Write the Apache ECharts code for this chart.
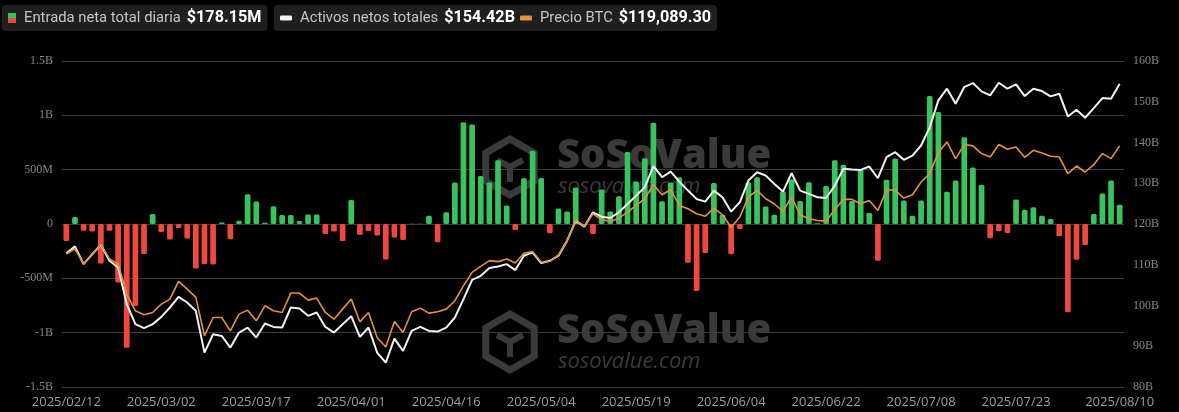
<!DOCTYPE html>
<html><head><meta charset="utf-8">
<script src="https://cdn.jsdelivr.net/npm/echarts@6/dist/echarts.min.js"></script>
<style>html,body{margin:0;padding:0;background:#000;}#c{width:1179px;height:412px;}</style>
</head><body><div id="c"></div>
<script>
const dates = [
'2025/02/12','2025/02/13','2025/02/17','2025/02/18','2025/02/19','2025/02/20','2025/02/23','2025/02/24','2025/02/25','2025/02/26','2025/02/27',
'2025/03/02','2025/03/03','2025/03/04','2025/03/05','2025/03/06','2025/03/09','2025/03/10','2025/03/11','2025/03/12','2025/03/13','2025/03/16','2025/03/17','2025/03/18','2025/03/19','2025/03/20','2025/03/23','2025/03/24','2025/03/25','2025/03/26','2025/03/27','2025/03/30',
'2025/03/31','2025/04/01','2025/04/02','2025/04/03','2025/04/06','2025/04/07','2025/04/08','2025/04/09','2025/04/10','2025/04/13','2025/04/14','2025/04/15','2025/04/16','2025/04/20','2025/04/21','2025/04/22','2025/04/23','2025/04/24','2025/04/27','2025/04/28','2025/04/29',
'2025/04/30','2025/05/01','2025/05/04','2025/05/05','2025/05/06','2025/05/07','2025/05/08','2025/05/11','2025/05/12','2025/05/13','2025/05/14','2025/05/15','2025/05/18','2025/05/19','2025/05/20','2025/05/21','2025/05/22','2025/05/26','2025/05/27','2025/05/28','2025/05/29',
'2025/06/01','2025/06/02','2025/06/03','2025/06/04','2025/06/05','2025/06/08','2025/06/09','2025/06/10','2025/06/11','2025/06/12','2025/06/15','2025/06/16','2025/06/17','2025/06/19','2025/06/22','2025/06/23','2025/06/24','2025/06/25','2025/06/26','2025/06/29',
'2025/06/30','2025/07/01','2025/07/02','2025/07/06','2025/07/07','2025/07/08','2025/07/09','2025/07/10','2025/07/13','2025/07/14','2025/07/15','2025/07/16','2025/07/17','2025/07/20','2025/07/21','2025/07/22','2025/07/23','2025/07/24','2025/07/27','2025/07/28','2025/07/29','2025/07/30',
'2025/07/31','2025/08/03','2025/08/04','2025/08/05','2025/08/06','2025/08/07','2025/08/10'
];

// Daily total net inflow (USD millions)
const netInflowM = [
-156, 65, -62, -68, -363, -62, -538, -1138, -754, -277,
92, -74, -143, -37, -134, -409, -370, -372, 13, -140,
30, 274, 207, 12, 163, 82, 82, 27, 88, 88,
-93, -69, -157, 220, -100, -64, -106, -326, -125, -148,
1.5, 1.5, 75, -169, 107, 381, 936, 916, 441, 381,
587, 171, -55, 421, 675, 424, -85, 142, 114, 336,
0, -92, 317, 114, 255, 662, 390, 606, 932, 209,
382, 430, -356, -616, -266, 378, 86, -278, -46, 385,
431, 162, 86, 302, 409, 212, 385, 8, 349, 586,
546, 212, 500, 102, -339, 407, 602, 216, 77, 216,
1177, 1030, 297, 401, 798, 521, 362, -130, -67, -83,
225, 130, 154, 77, 46, -113, -811, -330, -194, 91,
281, 401, 178.15
];

// Total net assets (USD billions)
const totalNetAssetsB = [
112.79, 114.51, 110.16, 112.62, 114.92, 110.98, 109.34, 100.33, 95.41, 94.43,
95.41, 97.21, 99.51, 102.13, 100.74, 98.69, 88.44, 92.95, 92.54, 89.67,
93.36, 94.59, 92.13, 95.57, 94.75, 94.59, 99.51, 99.26, 97.46, 98.28,
94.75, 93.36, 95.41, 97.38, 92.29, 94.59, 88.44, 85.98, 91.88, 88.85,
93.77, 94.75, 93.77, 93.61, 94.59, 97.05, 101.56, 106.31, 107.29, 109.18,
109.59, 110.16, 108.69, 112.21, 113.03, 110.41, 110.98, 112.21, 115.90, 120.82,
119.34, 122.87, 121.80, 121.48, 122.87, 124.92, 126.97, 129.02, 134.18, 131.48,
132.87, 130.41, 128.20, 126.15, 125.49, 128.20, 126.56, 123.03, 125.33, 130.66,
132.71, 131.89, 129.84, 127.95, 132.46, 128.20, 127.38, 126.56, 126.39, 129.43,
133.53, 133.36, 133.28, 134.10, 131.23, 136.39, 137.62, 135.74, 136.80, 139.26,
143.77, 150.33, 153.20, 149.51, 153.61, 154.59, 152.54, 151.56, 154.67, 153.20,
154.26, 151.39, 153.20, 152.62, 151.31, 151.97, 146.39, 148.03, 146.07, 148.44,
150.90, 150.74, 154.42
];

// BTC price (USD)
const btcPrice = [
96105, 97173, 93971, 95963, 98098, 95038, 93971, 87567, 84010, 83156,
83654, 85433, 86500, 90271, 88635, 86856, 78674, 82587, 82587, 79741,
83298, 84152, 81875, 85077, 84010, 83654, 87781, 87781, 86287, 86714,
83654, 82231, 84366, 86500, 81662, 83654, 78318, 76326, 81733, 79385,
83797, 84579, 83512, 83797, 84366, 86144, 89346, 92192, 93473, 94682,
94469, 95038, 94184, 96248, 96604, 94327, 94540, 95892, 98809, 103221,
102011, 104644, 103434, 103007, 103719, 104999, 106422, 107845, 110834, 108699,
109766, 106422, 105711, 104644, 104145, 105853, 104430, 101797, 103932, 108201,
109624, 107845, 106778, 105142, 108201, 104430, 103576, 103221, 103078, 105568,
107703, 107703, 106778, 107490, 105355, 109766, 109624, 107988, 108699, 111403,
113182, 117664, 119941, 116383, 119372, 119087, 117451, 116739, 119372, 118375,
118874, 116668, 118162, 117593, 116881, 116739, 113182, 114818, 113537, 115103,
117451, 116383, 119089.30
];

const leftTicks = [-1500, -1000, -500, 0, 500, 1000, 1500];
const leftTickLabels = ['-1.5B', '-1B', '-500M', '0', '500M', '1B', '1.5B'];
const rightTickLabelSuffix = 'B';

const seriesNames = ['Entrada neta total diaria', 'Activos netos totales', 'Precio BTC'];

const GREEN = '#37c45e', RED = '#f0473f', WHITE = '#f2f2f2', ORANGE = '#e3923a';
const last = dates.length - 1;

const fmtInflow = '$' + netInflowM[last].toFixed(2) + 'M';
const fmtAssets = '$' + totalNetAssetsB[last].toFixed(2) + 'B';
const fmtPrice = '$' + btcPrice[last].toLocaleString('en-US', {minimumFractionDigits: 2, maximumFractionDigits: 2});

const splitSvg = "<svg xmlns='http://www.w3.org/2000/svg' width='8' height='10'><rect width='8' height='5' fill='" + GREEN + "'/><rect y='5' width='8' height='5' fill='" + RED + "'/></svg>";
const splitIcon = 'image://data:image/svg+xml;charset=utf-8,' + encodeURIComponent(splitSvg);

const legRich = {
  a: {color: '#c6c6c6', fontSize: 14.8, fontFamily: 'Roboto', padding: [0, 6, 0, 3]},
  b: {color: '#ffffff', fontSize: 16.2, fontWeight: 'bold', fontFamily: 'Roboto'}
};
function mkLegend(name, left, icon, w, h, val) {
  return {
    data: [name], left: left, top: 5, orient: 'horizontal',
    backgroundColor: '#1f1f1f', borderRadius: 4, padding: [5, 6, 5, 6],
    icon: icon, itemWidth: w, itemHeight: h, selectedMode: false,
    formatter: function (n) { return '{a|' + n + '}{b|' + val + '}'; },
    textStyle: {rich: legRich}
  };
}

function hexPts(cx, cy, r) {
  const p = [];
  for (let k = 0; k < 6; k++) {
    const a = (-90 + 60 * k) * Math.PI / 180;
    p.push([cx + r * Math.cos(a), cy + r * Math.sin(a)]);
  }
  return p;
}
function watermark(cy) {
  const c = '#3a3a3a';
  const cx = 510;
  return [
    {type: 'polygon', z: 0, silent: true, shape: {points: hexPts(cx, cy, 28)}, style: {fill: 'none', stroke: c, lineWidth: 7}},
    {type: 'polyline', z: 0, silent: true, shape: {points: [[cx - 13, cy - 7], [cx, cy], [cx + 13, cy - 7]]}, style: {fill: 'none', stroke: c, lineWidth: 6}},
    {type: 'polyline', z: 0, silent: true, shape: {points: [[cx, cy], [cx, cy + 15]]}, style: {fill: 'none', stroke: c, lineWidth: 6}},
    {type: 'text', z: 0, silent: true, x: 557, y: cy - 10, style: {text: 'SoSoValue', fill: c, font: '800 40px "Open Sans"', verticalAlign: 'middle'}},
    {type: 'text', z: 0, silent: true, x: 558, y: cy + 20, style: {text: 'sosovalue.com', fill: c, font: 'italic 22px "Open Sans"', verticalAlign: 'middle'}}
  ];
}

const chart = echarts.init(document.getElementById('c'), null, {renderer: 'canvas'});
chart.setOption({
  backgroundColor: '#000000',
  animation: false,
  legend: [
    mkLegend(seriesNames[0], 2, splitIcon, 8, 10, fmtInflow),
    mkLegend(seriesNames[1], 274, 'roundRect', 12, 5, fmtAssets),
    mkLegend(seriesNames[2], 514, 'roundRect', 12, 5, fmtPrice)
  ],
  graphic: watermark(167).concat(watermark(342)),
  grid: {left: 62, right: 55, top: 61, bottom: 25},
  xAxis: {
    type: 'category', data: dates, boundaryGap: true,
    axisLine: {show: false}, axisTick: {show: false},
    axisLabel: {
      color: '#9d9d9d', fontSize: 13, fontFamily: 'Open Sans', margin: 9,
      interval: function (i) { return (i % 11 === 0 && i <= last - 6) || i === last; }
    },
    splitLine: {show: false}
  },
  yAxis: [
    {
      type: 'value', min: -1500, max: 1500, interval: 500, position: 'left',
      axisLine: {show: false}, axisTick: {show: false},
      axisLabel: {color: '#858585', fontSize: 12, fontFamily: 'Liberation Serif', margin: 9,
        formatter: function (v) { const k = leftTicks.indexOf(v); return k >= 0 ? leftTickLabels[k] : ''; }},
      splitLine: {show: true, lineStyle: {color: '#3c3c3c', width: 1}}
    },
    {
      type: 'value', min: 80, max: 160, interval: 10, position: 'right',
      axisLine: {show: false}, axisTick: {show: false},
      axisLabel: {color: '#858585', fontSize: 12, fontFamily: 'Liberation Serif', margin: 9,
        formatter: function (v) { return v + rightTickLabelSuffix; }},
      splitLine: {show: false}
    },
    {
      type: 'value', min: 67800, max: 137150, show: false, splitLine: {show: false}
    }
  ],
  series: [
    {
      name: seriesNames[0], type: 'bar', yAxisIndex: 0, data: netInflowM, barWidth: '66%',
      itemStyle: {
        color: function (p) { return p.value >= 0 ? GREEN : RED; },
        borderRadius: 1.5
      },
      z: 2
    },
    {
      name: seriesNames[1], type: 'line', yAxisIndex: 1, data: totalNetAssetsB,
      showSymbol: false, symbol: 'none', itemStyle: {color: WHITE},
      lineStyle: {color: WHITE, width: 2}, z: 3
    },
    {
      name: seriesNames[2], type: 'line', yAxisIndex: 2, data: btcPrice,
      showSymbol: false, symbol: 'none', itemStyle: {color: ORANGE},
      lineStyle: {color: ORANGE, width: 1.6}, z: 4
    }
  ]
});
</script></body></html>
